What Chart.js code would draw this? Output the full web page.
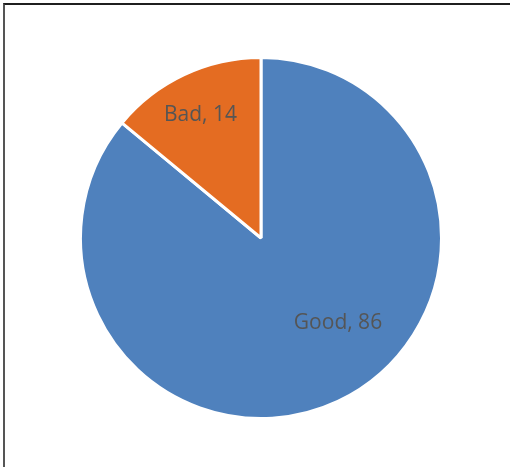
<!DOCTYPE html>
<html>
<head>
<meta charset="utf-8">
<script src="https://cdn.jsdelivr.net/npm/chart.js@4"></script>
<style>
  html, body { margin: 0; padding: 0; background: #fff; }
  #frame {
    position: absolute; left: 3px; top: 3px; width: 507px; height: 464px;
    border-top: 2px solid #1f1f1f; border-left: 2px solid #555;
  }
  #wrap { position: absolute; left: 79px; top: 56px; width: 364px; height: 364px; }
</style>
</head>
<body>
<div id="frame"></div>
<div id="wrap"><canvas id="pie"></canvas></div>
<script>
// pie data
const categories = ['Good', 'Bad']
const values = [86, 14]
const colors = ['#4F81BD', '#E46C22']

// label placement (fraction of radius, degrees shifted from slice middle)
const labelRadius = [0.635, 0.76]
const labelShift = [-17, -1]

const sliceLabels = {
  id: 'sliceLabels',
  afterDatasetsDraw(chart) {
    const { ctx } = chart
    const meta = chart.getDatasetMeta(0)
    ctx.save()
    ctx.font = '21px "Open Sans", sans-serif'
    ctx.fillStyle = '#555555'
    ctx.textAlign = 'center'
    ctx.textBaseline = 'middle'
    meta.data.forEach((arc, i) => {
      const mid = (arc.startAngle + arc.endAngle) / 2 + labelShift[i] * Math.PI / 180
      const r = arc.outerRadius * labelRadius[i]
      const x = arc.x + Math.cos(mid) * r
      const y = arc.y + Math.sin(mid) * r
      ctx.fillText(categories[i] + ', ' + values[i], x, y)
    })
    ctx.restore()
  }
}

new Chart(document.getElementById('pie'), {
  type: 'pie',
  data: {
    labels: categories,
    datasets: [{
      data: values,
      backgroundColor: colors,
      borderColor: '#ffffff',
      borderWidth: 3
    }]
  },
  options: {
    responsive: true,
    maintainAspectRatio: false,
    animation: false,
    layout: { padding: 0 },
    plugins: {
      legend: { display: false },
      tooltip: { enabled: false }
    }
  },
  plugins: [sliceLabels]
})
</script>
</body>
</html>
